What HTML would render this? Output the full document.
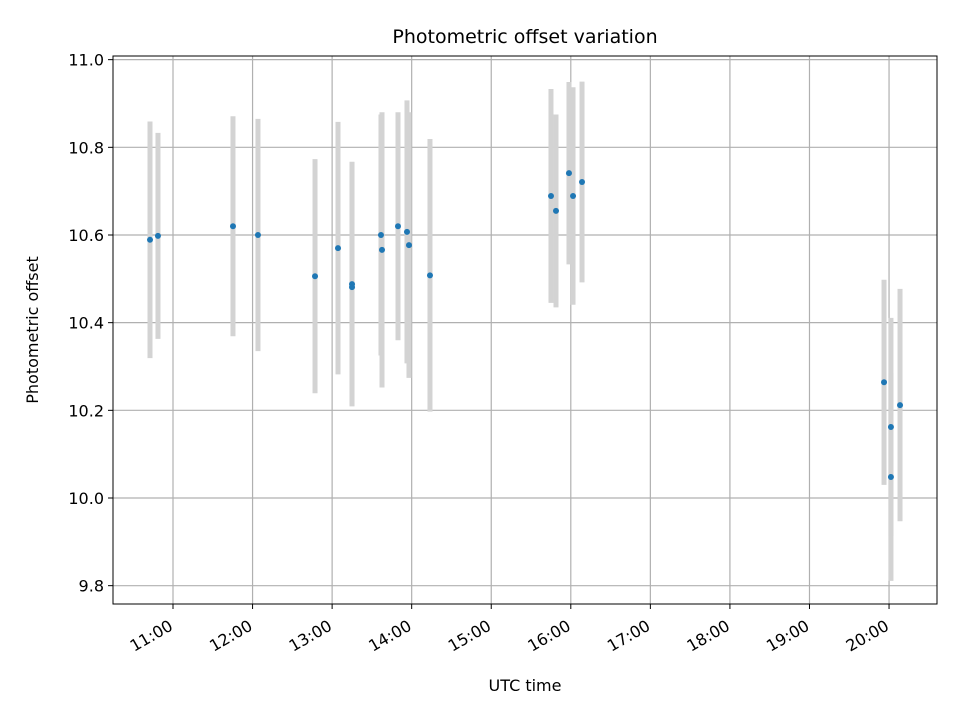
<!DOCTYPE html>
<html><head><meta charset="utf-8"><style>
body{margin:0;background:#fff;font-family:"DejaVu Sans","Liberation Sans",sans-serif}
</style></head><body>
<svg id="c" width="960" height="720" xmlns="http://www.w3.org/2000/svg" font-family="DejaVu Sans, Liberation Sans, sans-serif"></svg>
<script>
const hours=[10.711,10.811,11.754,12.068,12.785,13.074,13.250,13.250,13.614,13.627,13.828,13.941,13.966,14.230,15.751,15.814,15.977,16.028,16.141,19.937,20.024,20.024,20.138];
const offsets=[10.589,10.598,10.620,10.600,10.506,10.570,10.488,10.481,10.600,10.566,10.620,10.607,10.577,10.508,10.689,10.655,10.741,10.689,10.721,10.264,10.162,10.048,10.212];
const errors=[0.270,0.235,0.251,0.265,0.267,0.288,0.279,0.270,0.275,0.314,0.260,0.300,0.303,0.311,0.244,0.220,0.208,0.248,0.229,0.234,0.249,0.237,0.265];
const xTicks=[11,12,13,14,15,16,17,18,19,20];
const xTickLabels=["11:00","12:00","13:00","14:00","15:00","16:00","17:00","18:00","19:00","20:00"];
const yTicks=[9.8,10.0,10.2,10.4,10.6,10.8,11.0];
const yTickLabels=["9.8","10.0","10.2","10.4","10.6","10.8","11.0"];

const L=113,R=937,T=56,B=604;
const sx=h=>173+(h-11)*79.56;
const sy=v=>498-(v-10)*438.35;
const svg=document.getElementById('c');
const NS='http://www.w3.org/2000/svg';
function mk(tag,attrs,parent){const e=document.createElementNS(NS,tag);for(const k in attrs)e.setAttribute(k,attrs[k]);(parent||svg).appendChild(e);return e;}

const grid=mk('g',{});


xTicks.forEach(t=>mk('line',{x1:sx(t),x2:sx(t),y1:T,y2:B,stroke:'#b0b0b0','stroke-width':1.2},grid));
yTicks.forEach(t=>mk('line',{x1:L,x2:R,y1:sy(t),y2:sy(t),stroke:'#b0b0b0','stroke-width':1.2},grid));

const eb=mk('g',{});


hours.forEach((h,i)=>{const l=mk('line',{x1:sx(h),x2:sx(h),y1:sy(offsets[i]-errors[i]),y2:sy(offsets[i]+errors[i]),stroke:'#d3d3d3','stroke-width':5},eb);

});
const pts=mk('g',{});


hours.forEach((h,i)=>{const c=mk('circle',{cx:sx(h),cy:sy(offsets[i]),r:3,fill:'#1f77b4'},pts);

});

const frame=mk('rect',{x:L,y:T,width:R-L,height:B-T,fill:'none',stroke:'#000','stroke-width':1});



const xt=mk('g',{});


xTicks.forEach((t,i)=>{const x=sx(t);mk('line',{x1:x,x2:x,y1:B,y2:B+5,stroke:'#000'},xt);
const ax=x+1, ay=B+25;
const tx=mk('text',{x:ax,y:ay,'font-size':16,'text-anchor':'end',transform:`rotate(-30 ${ax} ${ay})`},xt);tx.textContent=xTickLabels[i];

});
const yt=mk('g',{});


yTicks.forEach((t,i)=>{const y=sy(t);mk('line',{x1:L-5,x2:L,y1:y,y2:y,stroke:'#000'},yt);
const tx=mk('text',{x:L-9,y:y+6,'font-size':16,'text-anchor':'end'},yt);tx.textContent=yTickLabels[i];

});

const title=mk('text',{x:525,y:43,'font-size':19,'text-anchor':'middle'});title.textContent='Photometric offset variation';


const xl=mk('text',{x:525,y:691,'font-size':16,'text-anchor':'middle'});xl.textContent='UTC time';


const yl=mk('text',{x:38,y:330,'font-size':16,'text-anchor':'middle',transform:'rotate(-90 38 330)'});yl.textContent='Photometric offset';


</script>
</body></html>
